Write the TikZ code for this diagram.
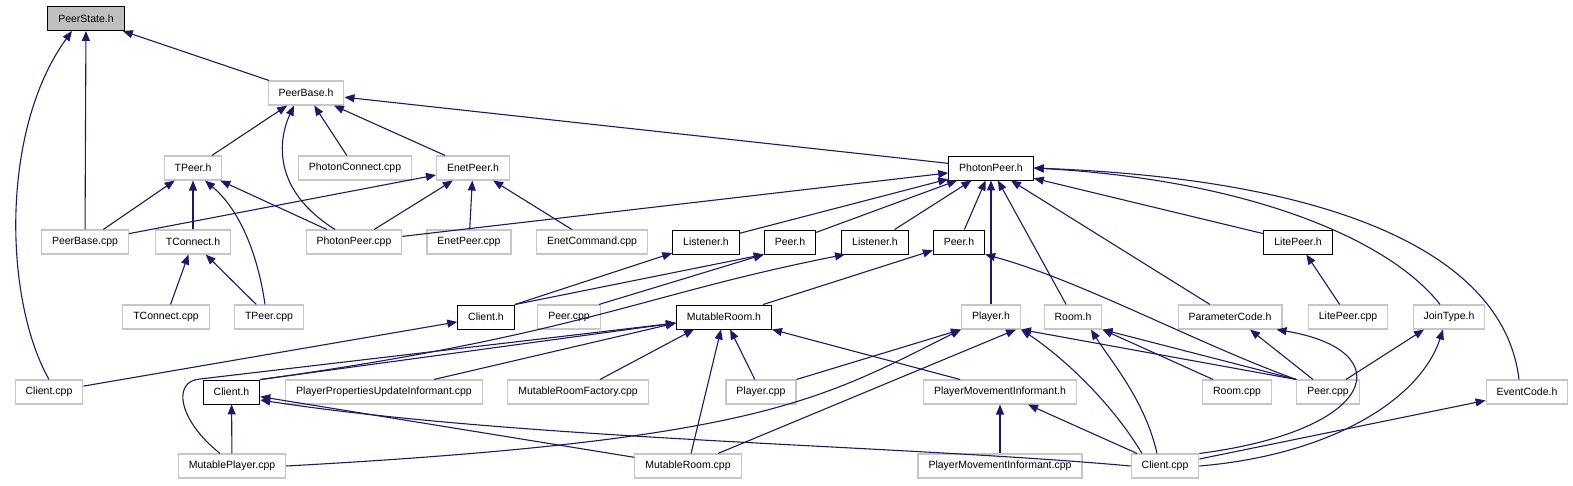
\documentclass[tikz,border=0pt]{standalone}
\usepackage{fontspec}
\setmainfont{Liberation Sans}
\usetikzlibrary{arrows.meta}
\definecolor{edgeblue}{HTML}{191970}

\begin{document}
\begin{tikzpicture}[x=1pt, y=1pt, every node/.style={font=\fontsize{10.5}{12}\selectfont},
  filebox/.style={draw=gray!45, line width=1.1pt, fill=white, minimum height=24pt, inner xsep=10.5pt, inner ysep=0pt},
  docbox/.style={filebox, draw=black, line width=0.9pt},
  rootbox/.style={docbox, fill=gray!50},
  inc/.style={draw=edgeblue, line width=1.1pt, -{Triangle[length=10pt,width=8pt]}}]
  \useasboundingbox (0,0) rectangle (1573,-485);

  \node[rootbox] (st) at (86,-18.5) {PeerState.h};
  \node[filebox] (pbh) at (306,-93) {PeerBase.h};

  \node[filebox] (tph) at (193,-168) {TPeer.h};
  \node[filebox] (pcc) at (355,-168) {PhotonConnect.cpp};
  \node[filebox] (eph) at (473,-168) {EnetPeer.h};
  \node[docbox] (ph) at (991,-168) {PhotonPeer.h};

  \node[filebox] (pbc) at (85,-242) {PeerBase.cpp};
  \node[filebox] (tch) at (193,-242) {TConnect.h};
  \node[filebox] (ppc) at (354,-242) {PhotonPeer.cpp};
  \node[filebox] (epc) at (469,-242) {EnetPeer.cpp};
  \node[filebox] (ecc) at (592,-242) {EnetCommand.cpp};
  \node[docbox] (la) at (706,-242) {Listener.h};
  \node[docbox] (pa) at (790,-242) {Peer.h};
  \node[docbox] (lb) at (875,-242) {Listener.h};
  \node[docbox] (pb) at (959,-242) {Peer.h};
  \node[docbox] (lp) at (1298,-242) {LitePeer.h};

  \node[filebox] (tcc) at (166,-317) {TConnect.cpp};
  \node[filebox] (tpc) at (269,-317) {TPeer.cpp};
  \node[docbox] (cha) at (486,-317) {Client.h};
  \node[filebox] (pca) at (569,-317) {Peer.cpp};
  \node[docbox] (mrh) at (724,-317) {MutableRoom.h};
  \node[filebox] (pl) at (991,-317) {Player.h};
  \node[filebox] (rm) at (1073,-317) {Room.h};
  \node[filebox] (pc) at (1230,-317) {ParameterCode.h};
  \node[filebox] (lpc) at (1348,-317) {LitePeer.cpp};
  \node[filebox] (jt) at (1449,-317) {JoinType.h};

  \node[filebox] (cla) at (49,-392) {Client.cpp};
  \node[docbox] (chb) at (231.5,-392) {Client.h};
  \node[filebox] (ppui) at (384,-392) {PlayerPropertiesUpdateInformant.cpp};
  \node[filebox] (mrf) at (578,-392) {MutableRoomFactory.cpp};
  \node[filebox] (plc) at (761,-392) {Player.cpp};
  \node[filebox] (pmh) at (1000,-392) {PlayerMovementInformant.h};
  \node[filebox] (rc) at (1237,-392) {Room.cpp};
  \node[filebox] (pcb) at (1328,-392) {Peer.cpp};
  \node[filebox] (ec) at (1527,-392) {EventCode.h};

  \node[filebox] (mpc) at (232,-466) {MutablePlayer.cpp};
  \node[filebox] (mrc) at (688,-466) {MutableRoom.cpp};
  \node[filebox] (pmc) at (1000,-466) {PlayerMovementInformant.cpp};
  \node[filebox] (clb) at (1165,-466) {Client.cpp};

  \draw[inc] (pbh) -- (st);
  \draw[inc] (pbc) -- (st);
  \draw[inc] (cla.north) .. controls (4,-300) and (0,-130) .. ([xshift=-14pt]st.south);

  \draw[inc] (tph) -- (pbh);
  \draw[inc] ([xshift=-19pt]ppc.north) .. controls (272,-190) and (278,-140) .. ([xshift=-12pt]pbh.south);
  \draw[inc] (pcc) -- (pbh);
  \draw[inc] (eph) -- (pbh);
  \draw[inc] (ph) -- (pbh);

  \draw[inc] (pbc) -- (tph);
  \draw[inc] (tch) -- (tph);
  \draw[inc] ([xshift=-4pt]tpc.north) .. controls (258,-255) and (240,-210) .. ([xshift=12pt]tph.south);
  \draw[inc] (ppc) -- (tph);

  \draw[inc] (pbc) -- (eph);
  \draw[inc] (ppc) -- (eph);
  \draw[inc] (epc) -- (eph);
  \draw[inc] (ecc) -- (eph);

  \draw[inc] (ppc) -- (ph);
  \foreach \n in {la,pa,lb,pb,pl,rm,pc,lp}
    \draw[inc] (\n) -- (ph);
  \draw[inc] ([xshift=-9pt]jt.north) .. controls (1390,-240) and (1250,-180) .. (ph.east);
  \draw[inc] ([xshift=-8pt]ec.north) .. controls (1505,-260) and (1350,-180) .. (ph.east);

  \draw[inc] (tcc) -- (tch);
  \draw[inc] (tpc) -- (tch);

  \draw[inc] (cha.north east) -- (la);
  \draw[inc] (cha.north east) -- (pa.south west);
  \draw[inc] ([xshift=30pt]pca.north) -- (pa.south west);
  \draw[inc] (chb.north east) .. controls (580,-335) and (640,-295) .. ([xshift=-30pt]lb.south);
  \draw[inc] (mrh) -- (pb);
  \draw[inc] (pcb.north west) .. controls (1200,-345) and (1080,-280) .. (pb.south east);
  \draw[inc] (lpc) -- (lp);
  \draw[inc] (cla) -- (cha);

  \draw[inc] ([xshift=-12pt]mpc.north) .. controls (178,-420) and (172,-381) .. (200,-379) -- ([yshift=-6pt]mrh.west);
  \draw[inc] (chb.north east) -- ([yshift=-6pt]mrh.west);
  \draw[inc] ([xshift=50pt]ppui.north) -- ([yshift=-6pt]mrh.west);
  \draw[inc] ([xshift=22pt]mrf.north) -- ([xshift=-30pt]mrh.south);
  \draw[inc] (mrc) -- (mrh);
  \draw[inc] (plc) -- (mrh);
  \draw[inc] ([xshift=-40pt]pmh.north) -- (mrh.south east);

  \draw[inc] (plc.north east) -- (pl.south west);
  \draw[inc] (mpc.east) .. controls (760,-440) and (820,-400) .. (pl.south west);
  \draw[inc] ([xshift=30pt]mrc.north) -- ([xshift=25pt]pl.south);
  \draw[inc] ([xshift=-23pt]clb.north) .. controls (1110,-400) and (1060,-355) .. (pl.south east);
  \draw[inc] (pcb.north west) -- (pl.south east);

  \draw[inc] ([xshift=-8pt]clb.north) .. controls (1145,-400) and (1110,-360) .. ([xshift=18pt]rm.south);
  \draw[inc] ([xshift=-24pt]rc.north) -- (rm.south east);
  \draw[inc] (pcb.north west) -- (rm.south east);

  \draw[inc] ([xshift=-15pt]pcb.north) -- ([xshift=20pt]pc.south);
  \draw[inc] (clb.north east) .. controls (1380,-430) and (1400,-350) .. ([xshift=-6pt]pc.south east);
  \draw[inc] ([xshift=18pt]pcb.north) -- ([xshift=-25pt]jt.south);
  \draw[inc] (clb.east) .. controls (1330,-455) and (1420,-400) .. ([xshift=-6pt]jt.south);
  \draw[inc] (clb) -- (ec);

  \draw[inc] (pmc) -- (pmh);
  \draw[inc] (clb) -- (pmh);

  \draw[inc] (mpc) -- (chb);
  \draw[inc] (mrc) -- (chb);
  \draw[inc] (clb.west) .. controls (900,-445) and (520,-440) .. ([yshift=-8pt]chb.east);
\end{tikzpicture}
\end{document}
